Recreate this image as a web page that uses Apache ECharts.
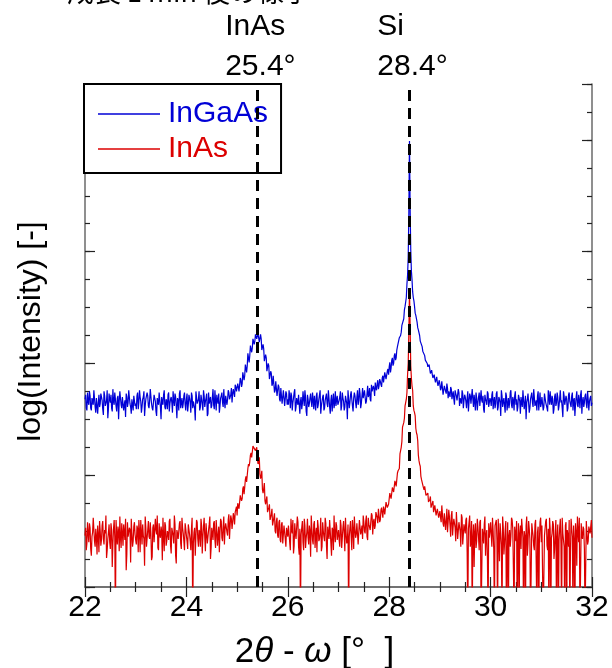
<!DOCTYPE html>
<html><head><meta charset="utf-8">
<script src="https://cdn.jsdelivr.net/npm/echarts@6/dist/echarts.min.js"></script>
<style>html,body{margin:0;padding:0;background:#fff}#c{width:612px;height:668px}</style>
</head><body><div id="c"></div>
<script>
// scan grid (2θ-ω, degrees): samples on 22.000, 22.025, ... and on 22.0125, 22.0375, ...
const angleStart = 22, angleStep = 0.025, angleHalfStep = 0.0125;
const xTickValues = [22, 24, 26, 28, 30, 32];
// log(Intensity), arbitrary units (1 major division = 100)
const ingaasA = [
168,160,174,163,171,158,166,176,161,169,155,172,164,170,159,175,162,167,151,173,165,160,177,163,168,157,171,166,174,160,169,163,152,170,165,175,161,168,158,172,
164,171,159,176,166,161,170,153,168,174,162,167,178,160,165,171,157,169,163,175,150,166,172,161,168,159,174,164,170,156,167,173,162,169,158,176,165,160,171,163,
168,157,172,165,174,160,167,149,170,163,175,161,168,158,171,166,173,155,164,170,162,177,159,167,172,164,156,169,174,161,166,171,163,176,168,172,165,177,170,179,
176,183,174,185,182,192,189,199,198,208,207,216,214,223,220,227,225,226,219,222,211,213,202,205,194,198,187,191,182,188,176,183,172,179,166,177,170,175,162,173,
168,176,160,171,165,174,157,169,163,172,166,159,175,162,170,153,168,164,173,161,167,171,158,174,163,169,155,166,172,160,170,164,176,161,167,157,173,165,162,171,
163,170,158,174,166,161,172,150,168,165,175,162,169,171,160,176,167,173,164,178,170,175,166,180,172,168,181,174,177,183,176,185,180,184,179,189,183,191,187,195,
197,192,203,198,207,203,212,214,223,225,234,237,248,255,271,295,399,302,275,259,251,243,237,230,225,219,215,210,207,202,200,196,195,191,190,187,186,184,183,180,
181,178,183,176,180,173,178,175,170,177,172,168,176,171,166,174,169,164,173,167,170,160,175,166,171,163,168,172,158,169,165,174,161,167,171,156,168,163,173,160,
167,172,159,170,164,175,161,168,153,171,166,162,174,158,169,165,176,160,167,171,163,157,172,166,170,161,175,164,150,168,173,160,169,165,177,162,167,171,158,174,
164,169,161,172,166,157,170,175,163,168,159,173,165,170,162,176,167,152,171,164,168,160,174,166,171,158,169,163,175,161,167,172,155,170,165,173,160,168,166,171,165
];
const ingaasB = [
172,158,166,175,160,169,163,177,156,170,165,161,173,167,154,171,164,176,160,168,172,157,166,174,162,169,150,175,163,170,158,167,173,161,176,164,155,169,171,162,
159,174,165,170,156,168,175,162,167,171,160,177,164,158,172,166,153,169,174,161,170,163,176,159,166,172,157,168,165,175,162,170,151,167,173,160,169,164,174,158,
173,163,169,156,171,166,160,175,164,168,158,172,167,176,161,169,153,174,165,160,170,163,176,158,167,173,162,171,165,177,160,172,168,174,169,178,173,176,181,175,
182,175,187,179,192,185,199,192,209,201,216,210,222,217,226,222,227,219,226,212,217,202,208,193,200,186,193,180,189,174,184,171,181,168,178,164,176,162,175,163,
163,170,174,158,169,177,161,166,172,155,170,164,168,176,157,172,161,169,166,174,159,165,171,160,168,176,162,170,158,167,173,161,169,155,172,166,160,175,168,163,
167,175,162,169,158,171,164,176,160,172,168,157,174,165,170,163,178,160,171,169,176,164,173,170,178,166,175,180,171,178,182,177,186,181,187,183,192,186,193,190,
201,196,205,200,209,205,215,216,224,228,236,240,251,259,279,335,340,283,264,256,245,242,232,229,220,219,211,211,203,204,197,199,191,194,187,190,183,188,180,185,
176,184,172,180,175,182,169,176,179,168,175,163,173,167,177,162,170,176,160,172,166,169,157,173,164,177,161,166,174,158,170,162,176,165,159,172,166,175,161,169,
162,175,166,160,173,158,170,165,176,161,169,156,171,164,160,174,163,170,158,175,168,161,173,155,169,176,159,171,165,173,156,168,174,161,170,164,158,175,166,161,
170,158,173,165,160,176,163,167,171,155,170,162,174,158,169,165,160,175,163,171,157,172,166,161,174,167,153,170,163,172,160,176,166,161,171,164,175,158,169,162
];
const inasA = [
46,33,58,40,53,28,49,62,36,45,55,31,50,42,59,38,48,26,43,56,34,51,39,60,-30,47,54,32,44,57,37,49,61,29,45,53,22,48,41,58,
42,55,31,50,60,38,46,19,53,35,59,43,48,27,56,40,51,64,33,47,54,24,45,58,37,50,42,61,30,52,39,56,21,48,44,59,34,53,41,57,
46,34,57,41,52,-30,49,28,60,43,51,36,55,45,62,32,48,40,56,25,53,42,59,35,50,46,31,61,44,54,38,57,49,60,43,64,52,66,56,68,
64,74,70,81,79,90,89,99,100,110,112,120,121,126,125,123,115,112,101,99,87,88,77,78,67,71,60,65,55,62,50,59,46,58,42,56,39,55,43,53,
45,56,33,51,60,37,48,42,58,29,-30,53,40,61,35,49,44,55,27,52,38,59,46,31,54,43,62,36,50,41,57,25,48,60,39,53,33,47,58,42,
51,36,55,44,59,32,48,41,-30,53,45,60,34,52,47,56,39,61,50,43,58,48,64,42,56,51,66,47,61,55,68,57,64,60,71,62,69,66,75,70,
74,81,78,87,85,93,91,104,106,122,130,145,151,165,174,200,265,198,180,162,156,142,136,118,110,99,97,89,90,82,83,76,78,71,75,67,73,64,70,62,
68,58,72,54,66,60,49,69,55,64,46,61,53,67,43,58,50,65,38,56,48,62,-30,53,36,59,45,18,57,41,54,33,60,-30,47,56,28,51,-30,44,
58,36,50,-30,55,42,61,23,48,-30,53,39,59,32,-30,51,45,60,16,54,41,-30,57,48,34,62,-30,46,55,28,59,43,-30,51,37,56,20,49,-30,58,
40,54,-30,47,61,33,-30,52,44,59,25,50,-30,56,42,61,-30,48,36,55,-30,46,60,31,53,-30,43,57,19,50,62,-30,45,54,34,-30,58,41,51,48,44
];
const inasB = [
53,39,48,57,34,45,62,41,52,29,46,59,37,55,43,51,64,33,49,40,57,18,52,45,60,38,50,63,35,48,56,42,15,58,44,51,61,36,54,47,
38,52,60,31,49,56,43,63,36,51,45,58,24,53,40,61,47,35,57,44,50,62,32,55,41,48,59,37,53,46,64,28,51,43,57,39,62,48,33,52,
41,56,47,33,62,39,53,45,58,36,49,61,30,54,44,57,39,51,63,35,48,57,42,60,37,54,49,59,41,63,52,57,46,65,55,61,58,63,67,72,
75,70,82,77,88,83,96,94,106,108,118,116,126,124,122,125,110,116,97,104,84,93,74,81,66,74,60,70,54,66,48,62,44,60,40,58,38,56,36,54,
55,40,61,48,30,57,43,63,36,52,47,59,33,55,44,61,38,50,64,42,56,35,53,60,41,49,32,58,45,62,37,54,43,59,28,51,64,40,55,47,
42,60,35,53,48,62,39,56,45,59,33,51,63,44,57,38,60,47,55,64,50,59,45,62,55,51,64,58,52,67,62,70,58,69,66,72,65,76,71,74,
84,79,89,85,95,90,102,103,119,125,143,147,162,168,190,228,235,187,176,158,153,138,131,113,108,96,97,87,90,81,84,75,81,71,77,68,74,65,71,62,
62,73,57,66,51,70,58,63,45,68,55,60,41,66,50,57,36,62,47,55,60,31,52,64,42,-30,56,49,35,61,44,58,-30,52,39,63,46,25,57,50,
47,62,34,55,60,-30,45,57,38,63,29,51,-30,58,46,36,62,52,-30,48,59,40,-30,55,61,44,50,-30,63,39,52,-30,57,46,33,60,-30,54,42,62,
55,-30,46,59,37,52,62,-30,48,56,34,60,44,-30,53,39,62,47,-30,58,51,36,-30,61,45,55,-30,49,63,40,-30,57,43,52,-30,59,38,54,48,60
];
const seriesNames = ['InGaAs', 'InAs'];
const seriesColors = ['#0000d6', '#dc0000'];
const peakAngles = [25.4, 28.4];
const peakNames = ['InAs', 'Si'];
const topNote = '成長 1 min 後の様子';

const toXY = (a, b) => a.map((v, i) => [+(angleStart + i * angleStep).toFixed(4), v])
  .concat(b.map((v, i) => [+(angleStart + angleHalfStep + i * angleStep).toFixed(4), v]))
  .sort((p, q) => p[0] - q[0]);
const FONT = "'Liberation Sans', Arial, Helvetica, sans-serif";
const frame = { show: true, lineStyle: { color: '#6a6a6a', width: 1.5 } };
const xBase = {
  type: 'value', min: xTickValues[0], max: xTickValues[xTickValues.length - 1], interval: 2,
  axisLine: frame, splitLine: { show: false },
  axisTick: { inside: true, length: 10, lineStyle: { color: '#222', width: 1.2 } },
  minorTick: { show: true, splitNumber: 4, length: 5, lineStyle: { color: '#222', width: 1.2 } }
};
const yBase = (pos, interval, len, showLine) => ({
  type: 'value', position: pos, min: 0, max: 450, interval: interval,
  axisLine: showLine ? frame : { show: false }, splitLine: { show: false }, axisLabel: { show: false },
  axisTick: { inside: true, length: len, lineStyle: { color: '#222', width: 1.2 } }
});

const chart = echarts.init(document.getElementById('c'), null, { renderer: 'canvas' });
chart.setOption({
  animation: false,
  backgroundColor: '#fff',
  title: { text: topNote, left: 62, top: -27, textStyle: { fontSize: 27, fontWeight: 'normal', color: '#000', fontFamily: "'Noto Sans CJK JP', sans-serif" } },
  grid: { left: 85, right: 20, top: 84, bottom: 81, containLabel: false, outerBoundsMode: 'none' },
  legend: {
    orient: 'vertical', left: 84, top: 84, padding: [15, 13, 9, 14], itemGap: 5,
    itemWidth: 62, itemHeight: 1.5, icon: 'rect', backgroundColor: '#fff', borderColor: '#000', borderWidth: 2,
    textStyle: { fontSize: 30, fontFamily: FONT, lineHeight: 30, padding: [0, 0, 0, 3] },
    data: seriesNames.map((n, i) => ({ name: n, textStyle: { color: seriesColors[i] } }))
  },
  xAxis: [
    Object.assign({}, xBase, { position: 'bottom',
      axisLabel: { fontSize: 30, color: '#000', fontFamily: FONT, margin: 6 },
      name: '{n|2}{i|θ}{n| - }{i|ω}{n| [°  ]}', nameLocation: 'middle', nameGap: 48,
      nameTextStyle: { padding: [0, 48, 0, 0], rich: { n: { fontSize: 35, fontFamily: FONT, color: '#000' }, i: { fontSize: 35, fontFamily: FONT, fontStyle: 'italic', color: '#000' } } } }),
    Object.assign({}, xBase, { position: 'top', axisLabel: { show: false } })
  ],
  yAxis: [
    Object.assign(yBase('left', 100, 10, true), {
      name: 'log(Intensity) [-]', nameLocation: 'middle', nameGap: 38,
      nameTextStyle: { fontSize: 32, fontFamily: FONT, color: '#000', padding: [0, 0, 0, 8] } }),
    yBase('right', 100, 10, true),
    yBase('left', 25, 5, false),
    yBase('right', 25, 5, false)
  ],
  series: [
    { name: seriesNames[0], type: 'line', data: toXY(ingaasA, ingaasB), symbol: 'none', color: seriesColors[0], lineStyle: { width: 1.2 }, clip: true, z: 2 },
    { name: seriesNames[1], type: 'line', data: toXY(inasA, inasB), symbol: 'none', color: seriesColors[1], lineStyle: { width: 1.2 }, clip: true, z: 3 },
    { name: 'peaks', type: 'line', data: [], z: 4,
      markLine: {
        silent: true, symbol: 'none', animation: false,
        lineStyle: { color: '#000', type: [11, 7], width: 3 },
        label: { position: 'end', distance: -3, align: 'center', padding: [0, 0, 0, 6],
          rich: { n: { align: 'left', fontSize: 30, lineHeight: 40, color: '#000', fontFamily: FONT } } },
        data: peakAngles.map((a, i) => ({ xAxis: a, label: { formatter: '{n|' + peakNames[i] + '}\n{n|' + a.toFixed(1) + '°}' } }))
      } }
  ]
});
</script></body></html>
